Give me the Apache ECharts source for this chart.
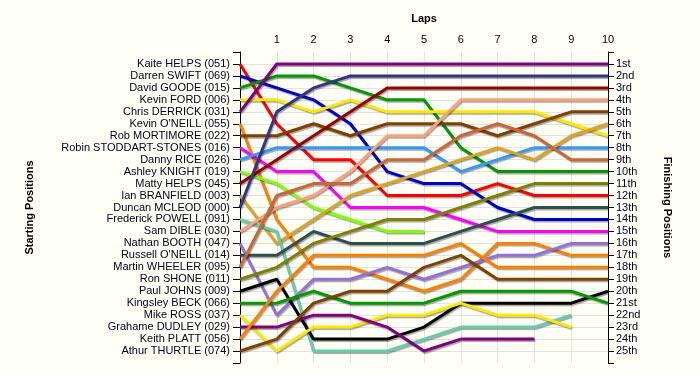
<!DOCTYPE html>
<html>
<head>
<meta charset="utf-8">
<script src="https://cdn.jsdelivr.net/npm/echarts@6/dist/echarts.min.js"></script>
<style>
html,body{margin:0;padding:0;background:#FFFFF5;}
#chart{width:700px;height:375px;}
</style>
</head>
<body>
<div id="chart"></div>
<script>
// Drivers in starting order
const drivers = [
  "Kaite HELPS (051)", "Darren SWIFT (069)", "David GOODE (015)", "Kevin FORD (006)",
  "Chris DERRICK (031)", "Kevin O'NEILL (055)", "Rob MORTIMORE (022)", "Robin STODDART-STONES (016)",
  "Danny RICE (026)", "Ashley KNIGHT (019)", "Matty HELPS (045)", "Ian BRANFIELD (003)",
  "Duncan MCLEOD (000)", "Frederick POWELL (091)", "Sam DIBLE (030)", "Nathan BOOTH (047)",
  "Russell O'NEILL (014)", "Martin WHEELER (095)", "Ron SHONE (011)", "Paul JOHNS (009)",
  "Kingsley BECK (066)", "Mike ROSS (037)", "Grahame DUDLEY (029)", "Keith PLATT (056)",
  "Athur THURTLE (074)"
];
const finishLabels = ["1st","2nd","3rd","4th","5th","6th","7th","8th","9th","10th","11th","12th","13th",
  "14th","15th","16th","17th","18th","19th","20th","21st","22nd","23rd","24th","25th"];
const lapLabels = [1,2,3,4,5,6,7,8,9,10];

// Position at lap 0,1,2,... for each driver
const p051 = [1,6,9,9,12,12,12,11,12,12,12];
const p069 = [2,3,4,6,10,11,11,13,14,14,14];
const p015 = [3,2,2,3,4,4,8,10,10,10,10];
const p006 = [4,4,5,4,5,5,5,5,5,6,7];
const p031 = [5,1,1,1,1,1,1,1,1,1,1];
const p055 = [6,14,18,18,19,20,19,16,16,17,17];
const p022 = [7,7,6,7,6,6,6,7,6,5,5];
const p016 = [8,10,10,13,13,13,14,15,15,15,15];
const p026 = [9,8,8,8,8,8,10,9,8,8,8];
const p019 = [10,11,13,14,15,15];
const p045 = [11,9,7,5,3,3,3,3,3,3,3];
const p003 = [12,16,14,12,11,10,9,8,9,7,6];
const p000 = [13,5,3,2,2,2,2,2,2,2,2];
const p091 = [14,15,25,25,25,24,23,23,23,22];
const p030 = [15,13,12,10,7,7,4,4,4,4,4];
const p047 = [16,22,19,19,18,19,18,17,17,16,16];
const p014 = [17,17,15,16,16,16,15,14,13,13,13];
const p095 = [18,12,11,11,9,9,7,6,7,9,9];
const p011 = [19,18,16,15,14,14,13,12,11,11,11];
const p009 = [20,19,24,24,24,23,21,21,21,21,20];
const p066 = [21,21,20,21,21,21,20,20,20,20,21];
const p037 = [22,25,23,23,22,22,21,22,22,23];
const p029 = [23,23,22,22,23,25,24,24,24];
const p056 = [24,20,17,17,17,17,16,18,18,18,18];
const p074 = [25,24,21,20,20,18,17,19,19,19,19];

const laps = [p051,p069,p015,p006,p031,p055,p022,p016,p026,p019,p045,p003,p000,
  p091,p030,p047,p014,p095,p011,p009,p066,p037,p029,p056,p074];

const colors = ["#FF0000","#0000CC","#009900","#FFE800","#800080","#FF8000","#804000","#FF00FF",
  "#3399FF","#80FF00","#990000","#DAA520","#333388","#66CDAA","#FFA07A","#9370DB",
  "#2F4F4F","#CC6633","#808000","#000000","#009900","#FFE800","#800080","#FF8000","#804000"];

const hGrid = [];
for (let i = 0; i <= 26; i++) hGrid.push(i === 0 || i === 26 ? 'rgba(0,0,0,0)' : '#E3E3E3');

const txt = '#000022';
const series = laps.map((arr, idx) => ({
  name: drivers[idx],
  type: 'line',
  symbol: 'none',
  yAxisIndex: 0,
  data: arr.map((p, i) => [i, p]),
  lineStyle: {
    width: 3, color: colors[idx],
    shadowColor: 'rgba(0,0,0,0.35)', shadowBlur: 1, shadowOffsetX: 1, shadowOffsetY: 1.5
  },
  itemStyle: { color: colors[idx] },
  z: 2 + idx
}));

const chart = echarts.init(document.getElementById('chart'), null, {renderer: 'canvas'});
chart.setOption({
  backgroundColor: '#FFFFF5',
  animation: false,
  textStyle: { fontFamily: 'Liberation Sans, Arial, sans-serif' },
  grid: { left: 240, right: 92, top: 52, bottom: 12 },
  xAxis: {
    type: 'value', position: 'top', min: 0, max: 10, interval: 1,
    name: 'Laps', nameLocation: 'middle', nameGap: 28,
    nameTextStyle: { fontWeight: 'bold', fontSize: 11, color: '#000' },
    axisLine: { show: false }, axisTick: { show: false },
    axisLabel: { margin: 7, fontSize: 11, color: '#000',
      formatter: v => (lapLabels.indexOf(v) >= 0 ? String(v) : '') },
    splitLine: { show: true, lineStyle: { color: '#E3E3E3', width: 1 } }
  },
  yAxis: [
    {
      type: 'value', inverse: true, min: 0, max: 26, interval: 1, position: 'left',
      name: 'Starting Positions', nameLocation: 'middle', nameRotate: 90, nameGap: 205,
      nameTextStyle: { fontWeight: 'bold', fontSize: 11, color: '#000' },
      axisLine: { show: true, lineStyle: { color: '#000', width: 1 } },
      axisTick: { show: true, length: 7, lineStyle: { color: '#000' } },
      axisLabel: { margin: 10, fontSize: 11, color: txt,
        formatter: v => drivers[Math.round(v) - 1] || '' },
      splitLine: { show: true, lineStyle: { color: hGrid, width: 1 } }
    },
    {
      type: 'value', inverse: true, min: 0, max: 26, interval: 1, position: 'right',
      name: 'Finishing Positions', nameLocation: 'middle', nameRotate: -90, nameGap: 54,
      nameTextStyle: { fontWeight: 'bold', fontSize: 11, color: '#000' },
      axisLine: { show: true, lineStyle: { color: '#000', width: 1 } },
      axisTick: { show: true, length: 6, lineStyle: { color: '#000' } },
      axisLabel: { margin: 8, fontSize: 11, color: txt,
        formatter: v => finishLabels[Math.round(v) - 1] || '' },
      splitLine: { show: false }
    }
  ],
  series: series
});
</script>
</body>
</html>
